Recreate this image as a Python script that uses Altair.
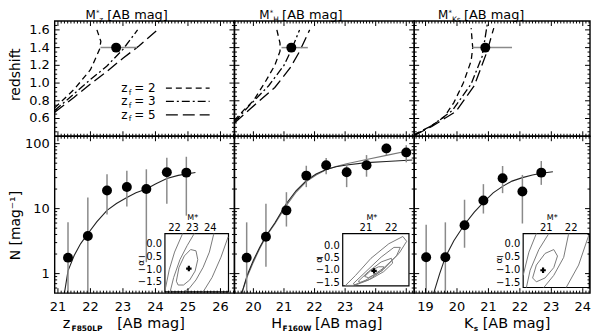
import altair as alt
import pandas as pd

FONT = "DejaVu Sans"
GRAY = "#8a8a8a"

# ---------------- data ----------------
# bottom panels: number counts (mag, N, lower, upper)
z_mag = [21.31, 21.92, 22.51, 23.12, 23.72, 24.35, 24.95]
z_N = [1.76, 3.8, 19.0, 21.5, 20.0, 36.3, 35.8]
z_lo = [0.45, 0.45, 8.1, 10.8, 1.5, 11.9, 7.8]
z_hi = [6.15, 14.8, 33.8, 38.4, 40.3, 60.7, 62.8]
z_fit_mag = [21.2, 21.31, 21.5, 21.7, 21.92, 22.2, 22.51, 22.8, 23.12, 23.4, 23.72, 24.0, 24.35, 24.7, 25.23]
z_fit_N = [0.5, 1.1, 1.9, 2.9, 4.1, 6.3, 9.4, 12.0, 14.8, 17.5, 20.0, 24.0, 29.0, 32.5, 36.0]

h_mag = [19.78, 20.41, 21.08, 21.73, 22.38, 23.05, 23.7, 24.35, 25.0]
h_N = [1.76, 3.68, 9.4, 32.2, 46.4, 36.3, 46.4, 84.5, 73.3]
h_lo = [0.45, 1.28, 5.3, 21.4, 33.8, 21.4, 31.0, 66.7, 51.6]
h_hi = [6.15, 11.9, 17.9, 45.7, 60.0, 48.0, 66.7, 100.0, 94.7]
h_fit_mag = [19.62, 19.8, 20.0, 20.2, 20.41, 20.7, 21.08, 21.4, 21.73, 22.05, 22.38, 22.7, 23.05, 23.7, 24.35, 25.2]
h_fit1_N = [0.5, 0.95, 1.6, 2.5, 3.8, 6.0, 12.0, 19.0, 27.0, 34.0, 40.0, 44.0, 47.0, 51.0, 53.0, 56.0]
h_fit2_N = [0.5, 0.9, 1.5, 2.4, 3.7, 5.8, 11.2, 18.0, 26.0, 33.0, 39.5, 44.5, 49.0, 57.0, 66.0, 80.0]

k_mag = [19.02, 19.63, 20.24, 20.84, 21.45, 22.08, 22.68]
k_N = [1.79, 1.79, 5.54, 13.3, 29.4, 18.3, 35.8]
k_lo = [0.45, 0.45, 2.5, 8.4, 17.3, 5.9, 23.2]
k_hi = [5.67, 6.15, 13.7, 23.8, 45.3, 33.0, 54.0]
k_fit_mag = [19.26, 19.45, 19.63, 19.9, 20.24, 20.55, 20.84, 21.15, 21.45, 21.75, 22.08, 22.4, 22.68, 23.05]
k_fit_N = [0.5, 1.0, 1.79, 3.2, 5.7, 8.8, 12.5, 17.5, 22.0, 26.5, 30.0, 33.0, 35.0, 37.0]

# top panels: M* vs redshift, measured point and model tracks
top_pts = {"z": (22.79, 1.4, 22.31, 23.43), "h": (21.24, 1.4, 20.92, 21.78), "k": (20.9, 1.4, 20.49, 21.75)}
tracks = {
    "z": {
        "2": ([20.9, 21.5, 22.0, 22.28, 22.32, 22.2], [0.72, 0.93, 1.15, 1.38, 1.47, 1.6]),
        "3": ([20.9, 21.5, 22.0, 22.5, 23.0, 23.45], [0.69, 0.88, 1.04, 1.19, 1.38, 1.6]),
        "5": ([20.9, 21.5, 22.0, 22.5, 23.0, 23.5, 24.06], [0.67, 0.84, 0.99, 1.13, 1.28, 1.42, 1.6]),
    },
    "h": {
        "2": ([19.38, 19.7, 20.0, 20.4, 20.7, 20.87, 20.87, 20.76], [0.58, 0.70, 0.80, 1.02, 1.2, 1.36, 1.45, 1.61]),
        "3": ([19.38, 19.85, 20.5, 21.0, 21.25, 21.51], [0.56, 0.74, 0.97, 1.2, 1.38, 1.6]),
        "5": ([19.38, 19.9, 20.7, 21.2, 21.5, 21.84], [0.55, 0.71, 0.95, 1.17, 1.35, 1.6]),
    },
    "k": {
        "2": ([18.64, 19.2, 19.6, 19.9, 20.2, 20.45, 20.5, 20.45], [0.42, 0.52, 0.62, 0.78, 1.0, 1.25, 1.4, 1.62]),
        "3": ([18.64, 19.2, 19.85, 20.45, 20.8, 20.97], [0.41, 0.52, 0.69, 0.99, 1.3, 1.68]),
        "5": ([18.64, 19.2, 19.97, 20.55, 20.95, 21.17], [0.41, 0.51, 0.68, 0.97, 1.35, 1.62]),
    },
}

# insets: confidence contours in (M*, alpha); each contour is a list of segments
inset_best = {"z": (22.8, -0.95), "h": (21.32, -1.02), "k": (20.87, -1.0)}
inset_contours = {
    "z": [
        [([22.1, 22.25, 22.55, 22.9, 23.2, 23.3, 23.15, 22.85, 22.5, 22.2, 22.1],
          [-1.45, -0.9, -0.45, -0.2, -0.25, -0.6, -1.05, -1.4, -1.6, -1.6, -1.45])],
        [([21.75, 21.95, 22.3, 22.7, 23.1], [-1.87, -1.3, -0.6, -0.05, 0.43]),
         ([24.2, 23.95, 23.6, 23.2, 22.8, 22.5], [0.43, -0.3, -0.9, -1.4, -1.75, -1.87])],
        [([21.5, 21.7, 22.0, 22.45], [-1.7, -1.0, -0.3, 0.43]),
         ([25.0, 24.6, 24.1, 23.6], [0.3, -0.5, -1.3, -1.87])],
    ],
    "h": [
        [([20.95, 21.2, 21.5, 21.7, 21.65, 21.4, 21.1, 20.95], [-1.25, -1.0, -0.85, -0.85, -1.0, -1.15, -1.3, -1.25])],
        [([20.7, 21.1, 21.6, 22.0, 22.05, 21.7, 21.2, 20.8, 20.7], [-1.45, -1.05, -0.65, -0.5, -0.7, -1.05, -1.35, -1.5, -1.45])],
        [([20.5, 21.0, 21.6, 22.1, 22.35, 22.2, 21.7, 21.1, 20.6, 20.5], [-1.55, -1.05, -0.45, -0.05, -0.05, -0.4, -0.95, -1.4, -1.6, -1.55])],
        [([20.2, 20.6, 21.2, 21.9, 22.45, 22.6, 22.3, 21.7, 21.0, 20.5, 20.2], [-1.62, -1.2, -0.5, 0.1, 0.4, 0.2, -0.3, -0.9, -1.4, -1.62, -1.62])],
    ],
    "k": [
        [([20.45, 20.6, 20.95, 21.3, 21.45, 21.3, 20.95, 20.6, 20.45], [-1.3, -0.8, -0.35, -0.2, -0.45, -0.9, -1.3, -1.45, -1.3])],
        [([20.2, 20.35, 20.7, 21.1], [-1.67, -1.0, -0.2, 0.42]),
         ([21.9, 21.7, 21.3, 20.9], [0.42, -0.5, -1.2, -1.67])],
        [([20.07, 20.3, 20.6], [-1.2, -0.3, 0.42]),
         ([22.73, 22.3, 21.8], [0.42, -0.8, -1.67])],
    ],
}

# axis tick labels
x_labels = {"z": [21, 22, 23, 24, 25, 26], "h": [20, 21, 22, 23, 24], "k": [19, 20, 21, 22, 23, 24]}
top_y_labels = [0.6, 0.8, 1.0, 1.2, 1.4, 1.6]
bot_y_labels = [1, 10, 100]
inset_x_labels = {"z": [22, 23, 24], "h": [21, 22], "k": [21, 22]}
inset_y_labels = [0.0, -0.5, -1.0, -1.5]

# ---------------- geometry (chart pixels) ----------------
PX = {"z": (47, 228), "h": (228, 409), "k": (409, 586)}
XDOM = {"z": [20.9, 26.43], "h": [19.38, 25.26], "k": [18.64, 24.23]}
TOP = (12, 128)
BOT = (128, 286)
TOP_DOM = [0.4, 1.7]
BOT_DOM = [0.5, 130]
INSET_PX = {"z": (158, 222, 226, 284.7), "h": (337, 403.7, 226, 278.7), "k": (518.7, 585.3, 226, 280.3)}
INSET_DOM = {"z": ([21.46, 25.02], [-1.87, 0.43]), "h": ([20.09, 22.69], [-1.64, 0.52]), "k": ([20.07, 22.73], [-1.67, 0.42])}


def xs(p):
    return alt.Scale(domain=XDOM[p], range=list(PX[p]), nice=False, zero=False)


def ys_top():
    return alt.Scale(domain=TOP_DOM, range=[TOP[1], TOP[0]], nice=False, zero=False)


def ys_bot():
    return alt.Scale(type="log", domain=BOT_DOM, range=[BOT[1], BOT[0]], nice=False, clamp=True)


def ixs(p):
    x0, x1, _, _ = INSET_PX[p]
    return alt.Scale(domain=INSET_DOM[p][0], range=[x0, x1], nice=False, zero=False)


def iys(p):
    _, _, y0, y1 = INSET_PX[p]
    return alt.Scale(domain=INSET_DOM[p][1], range=[y1, y0], nice=False, zero=False)


def X(field, scale):
    return alt.X(field, scale=scale, axis=None)


def Y(field, scale):
    return alt.Y(field, scale=scale, axis=None)


def text(txt, x, y, size=13, align="left", baseline="alphabetic", angle=0, weight="normal"):
    return alt.Chart(pd.DataFrame({"t": [txt]})).mark_text(
        align=align, baseline=baseline, fontSize=size, font=FONT, angle=angle,
        fontWeight=weight, color="black").encode(x=alt.value(x), y=alt.value(y), text="t:N")


def frange(a, b, step):
    n = int(round((b - a) / step))
    return [round(a + i * step, 4) for i in range(n + 1)]


layers = []


def xtick_layer(p, vals, ybase, direction, L):
    return alt.Chart(pd.DataFrame({"v": vals})).mark_rule(color="black", strokeWidth=1).encode(
        x=X("v:Q", xs(p)), y=alt.value(ybase), y2=alt.value(ybase + direction * L))


def ytick_layer(scale, vals, xbase, direction, L):
    return alt.Chart(pd.DataFrame({"v": vals})).mark_rule(color="black", strokeWidth=1).encode(
        y=Y("v:Q", scale), x=alt.value(xbase), x2=alt.value(xbase + direction * L))


MAJ, MIN = 5, 2.5
top_major = [0.6, 0.8, 1.0, 1.2, 1.4, 1.6]
top_minor = [v for v in frange(0.45, 1.65, 0.05) if all(abs(v - m) > 1e-6 for m in top_major)]
bot_major = [1, 10, 100]
bot_minor = [0.6, 0.7, 0.8, 0.9] + list(range(2, 10)) + list(range(20, 100, 10))

for p in ["z", "h", "k"]:
    d0, d1 = XDOM[p]
    xmaj = [v for v in range(int(d0), int(d1) + 1) if d0 < v < d1]
    xmin = [v for v in frange(round(d0 + 0.05, 1), d1, 0.1) if d0 < v < d1 and abs(v - round(v)) > 1e-6]
    x0, x1 = PX[p]

    # ----- top panel: tracks -----
    dashes = {"2": [6, 4], "3": [8, 3, 2, 3], "5": [12, 5]}
    for zf, (mx, zy) in tracks[p].items():
        df = pd.DataFrame({"m": mx, "z": zy, "i": list(range(len(mx)))})
        layers.append(alt.Chart(df).mark_line(color="black", strokeWidth=1.3, strokeDash=dashes[zf]).encode(
            x=X("m:Q", xs(p)), y=Y("z:Q", ys_top()), order="i:Q"))
    m, zz, lo, hi = top_pts[p]
    dft = pd.DataFrame({"m": [m], "z": [zz], "lo": [lo], "hi": [hi]})
    layers.append(alt.Chart(dft).mark_rule(color=GRAY, strokeWidth=1.5).encode(
        x=X("lo:Q", xs(p)), x2="hi:Q", y=Y("z:Q", ys_top())))
    layers.append(alt.Chart(dft).mark_circle(color="black", size=100, opacity=1).encode(
        x=X("m:Q", xs(p)), y=Y("z:Q", ys_top())))

    # ----- bottom panel: counts -----
    mag, N, lo, hi = {"z": (z_mag, z_N, z_lo, z_hi), "h": (h_mag, h_N, h_lo, h_hi), "k": (k_mag, k_N, k_lo, k_hi)}[p]
    dfb = pd.DataFrame({"m": mag, "n": N, "lo": lo, "hi": hi})
    if p == "z":
        fits = [(z_fit_mag, z_fit_N, "#222222")]
    elif p == "h":
        fits = [(h_fit_mag, h_fit2_N, "#777777"), (h_fit_mag, h_fit1_N, "#222222")]
    else:
        fits = [(k_fit_mag, k_fit_N, "#222222")]
    for fm, fn, col in fits:
        layers.append(alt.Chart(pd.DataFrame({"m": fm, "n": fn})).mark_line(color=col, strokeWidth=1.1).encode(
            x=X("m:Q", xs(p)), y=Y("n:Q", ys_bot())))
    layers.append(alt.Chart(dfb).mark_rule(color=GRAY, strokeWidth=1.5).encode(
        x=X("m:Q", xs(p)), y=Y("lo:Q", ys_bot()), y2="hi:Q"))
    layers.append(alt.Chart(dfb).mark_circle(color="black", size=100, opacity=1).encode(
        x=X("m:Q", xs(p)), y=Y("n:Q", ys_bot())))

    # ----- inset -----
    ix0, ix1, iy0, iy1 = INSET_PX[p]
    layers.append(alt.Chart(pd.DataFrame({"a": [0]})).mark_rect(fill="white", stroke="black", strokeWidth=1.2).encode(
        x=alt.value(ix0), x2=alt.value(ix1), y=alt.value(iy0), y2=alt.value(iy1)))
    rows = []
    for ci, contour in enumerate(inset_contours[p]):
        for si, (cm, ca) in enumerate(contour):
            for k, (a_, b_) in enumerate(zip(cm, ca)):
                rows.append({"m": a_, "a": b_, "g": f"{ci}-{si}", "i": k})
    layers.append(alt.Chart(pd.DataFrame(rows)).mark_line(color="#7a7a7a", strokeWidth=1).encode(
        x=X("m:Q", ixs(p)), y=Y("a:Q", iys(p)), detail="g:N", order="i:Q"))
    bm, ba = inset_best[p]
    layers.append(alt.Chart(pd.DataFrame({"m": [bm], "a": [ba]})).mark_point(
        shape="cross", color="black", size=30, filled=True, opacity=1).encode(
        x=X("m:Q", ixs(p)), y=Y("a:Q", iys(p))))
    layers.append(alt.Chart(pd.DataFrame({"v": inset_x_labels[p], "t": [str(v) for v in inset_x_labels[p]]})).mark_text(
        font=FONT, fontSize=10, baseline="alphabetic").encode(
        x=X("v:Q", ixs(p)), y=alt.value(iy0 - 3), text="t:N"))
    layers.append(alt.Chart(pd.DataFrame({"v": inset_y_labels, "t": ["0.0", "\u22120.5", "\u22121.0", "\u22121.5"]})).mark_text(
        font=FONT, fontSize=10, align="right", baseline="middle").encode(
        y=Y("v:Q", iys(p)), x=alt.value(ix0 - 3), text="t:N"))
    layers.append(text("M*", (ix0 + ix1) / 2 - 4, iy0 - 14, size=8, align="center"))
    layers.append(text("\u03b1", ix0 - 24, (iy0 + iy1) / 2, size=9, align="center", baseline="middle", angle=270))

    # ----- frames & ticks -----
    for (ya, yb) in [TOP, BOT]:
        layers.append(alt.Chart(pd.DataFrame({"a": [0]})).mark_rect(fillOpacity=0, stroke="black", strokeWidth=1.4).encode(
            x=alt.value(x0), x2=alt.value(x1), y=alt.value(ya), y2=alt.value(yb)))
        layers.append(xtick_layer(p, xmaj, yb, -1, MAJ))
        layers.append(xtick_layer(p, xmin, yb, -1, MIN))
        layers.append(xtick_layer(p, xmaj, ya, 1, MAJ))
        layers.append(xtick_layer(p, xmin, ya, 1, MIN))
    for sc, maj, mn in [(ys_top(), top_major, top_minor), (ys_bot(), bot_major, bot_minor)]:
        layers.append(ytick_layer(sc, maj, x0, 1, MAJ))
        layers.append(ytick_layer(sc, mn, x0, 1, MIN))
        layers.append(ytick_layer(sc, maj, x1, -1, MAJ))
        layers.append(ytick_layer(sc, mn, x1, -1, MIN))

    # bottom x tick labels
    layers.append(alt.Chart(pd.DataFrame({"v": x_labels[p], "t": [str(v) for v in x_labels[p]]})).mark_text(
        font=FONT, fontSize=13, baseline="middle").encode(
        x=X("v:Q", xs(p)), y=alt.value(299.5), text="t:N"))

# left y tick labels
layers.append(alt.Chart(pd.DataFrame({"v": top_y_labels, "t": [f"{v:.1f}" for v in top_y_labels]})).mark_text(
    font=FONT, fontSize=13, align="right", baseline="middle").encode(
    y=Y("v:Q", ys_top()), x=alt.value(42), text="t:N"))
layers.append(alt.Chart(pd.DataFrame({"v": bot_y_labels, "t": [str(v) for v in bot_y_labels]})).mark_text(
    font=FONT, fontSize=13, align="right", baseline="middle").encode(
    y=Y("v:Q", ys_bot()), x=alt.value(42), text="t:N"))

# axis titles
layers.append(text("redshift", 8, 66, size=14, align="center", baseline="middle", angle=270))
layers.append(text("N [mag\u207b\u00b9]", 8, 218, size=14, align="center", baseline="middle", angle=270))

# top titles (M* with sub-/superscripts)
for xM, sub, xb in [(78, "z", 100), (253, "H", 276), (433, "Ks", 459)]:
    layers.append(text("M", xM, 9.5, size=12))
    layers.append(text("*", xM + 10.5, 5.5, size=7))
    layers.append(text(sub, xM + 14, 13, size=7.5))
    layers.append(text("[AB mag]", xb, 9.5, size=13))

# bottom titles
for xm, main, sub, xb, sw in [(55, "z", "F850LP", 110, 9), (265, "H", "F160W", 309, 11.5), (459, "K", "s", 478, 10)]:
    layers.append(text(main, xm, 321, size=14.5))
    layers.append(text(sub, xm + sw, 324.5, size=7.5, weight="bold"))
    layers.append(text("[AB mag]", xb, 321, size=14.5))

# legend in top-left panel
for row, (zf, dash) in enumerate([("2", [6, 4]), ("3", [8, 3, 2, 3]), ("5", [12, 5])]):
    yy = [79.5, 93, 106.5][row]
    layers.append(text("z", 114, yy + 4, size=12))
    layers.append(text("f", 121.5, yy + 6.5, size=7.5))
    layers.append(text("=  " + zf, 127, yy + 4, size=12))
    layers.append(alt.Chart(pd.DataFrame({"a": [0]})).mark_rule(color="black", strokeWidth=1.3, strokeDash=dash).encode(
        x=alt.value(159), x2=alt.value(203), y=alt.value(yy)))

chart = alt.layer(*layers).resolve_scale(x="independent", y="independent").properties(
    width=588, height=326, autosize=alt.AutoSizeParams(type="none"), padding=0
).configure_view(stroke=None)

chart.save("out.html", embed_options={"renderer": "svg", "actions": False})
